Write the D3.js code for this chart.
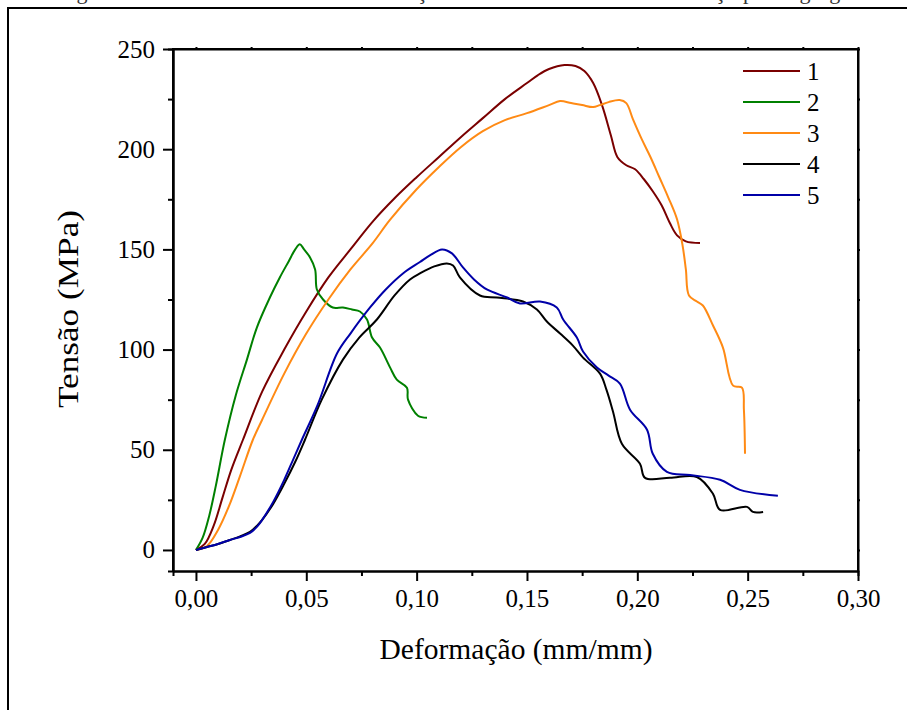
<!DOCTYPE html>
<html>
<head>
<meta charset="utf-8">
<script src="https://cdn.jsdelivr.net/npm/d3@7"></script>
<style>
  body { margin: 0; background: #fff; }
  svg { display: block; font-family: "Liberation Serif", "Times New Roman", serif; }
  .axis path, .axis line { stroke: #000; stroke-width: 2; }
</style>
</head>
<body>
<svg width="907" height="710"></svg>
<script>
// data: [strain (mm/mm), stress (MPa)]
const curve1 = [[0,0],[0.004,3],[0.008,12],[0.012,26],[0.016,40],[0.0213,55],[0.03,79],[0.04,100],[0.05,119],
  [0.06,136],[0.07,150],[0.0802,164],[0.09,175.5],[0.10,186],[0.11,196],[0.12,206],[0.13,215.5],[0.14,225],[0.15,233],
  [0.155,237],[0.16,240],[0.167,242],[0.172,241.5],[0.176,239],[0.18,233],[0.184,222],[0.188,207],[0.191,196],[0.195,192],[0.199,190],
  [0.203,185],[0.207,179],[0.211,172],[0.2148,163],[0.218,157],[0.222,154],[0.2284,153.2]]
const curve2 = [[0,0],[0.003,6],[0.006,17],[0.009,32],[0.0131,55],[0.018,77],[0.0231,95],[0.0276,111],[0.0335,126],[0.038,136],
  [0.042,144],[0.045,150],[0.0471,152.5],[0.049,150],[0.0517,146],[0.054,140],[0.0548,130],[0.0576,125],[0.062,121],[0.0666,121],
  [0.0707,120],[0.0743,119],[0.0775,115],[0.0798,106],[0.0834,101],[0.088,91],[0.091,85],[0.0956,81],[0.0961,75],[0.1006,67],[0.1047,66]]
const curve3 = [[0,0],[0.005,2],[0.01,10],[0.015,22],[0.02,37],[0.0258,55],[0.03,65],[0.04,88],[0.05,108],[0.06,125],
  [0.07,140],[0.08,153],[0.0879,164.7],[0.10,180],[0.11,191],[0.12,201],[0.13,209],[0.14,214.5],[0.15,218],[0.16,222],
  [0.165,224],[0.17,223],[0.175,222],[0.18,221],[0.183,222],[0.187,223.5],[0.192,224.5],[0.195,223],[0.198,215],[0.202,205],
  [0.206,196],[0.21,186],[0.214,176],[0.218,165],[0.2205,152],[0.222,140],[0.2234,127],[0.227,124],[0.2297,122],[0.2343,112],
  [0.2388,101],[0.2434,82],[0.2474,81],[0.2483,70],[0.2488,48]]
const curve4 = [[0,0],[0.005,1.5],[0.01,3],[0.0154,5],[0.02,6.8],[0.0245,9],[0.028,12.5],[0.03,15],[0.035,23],[0.04,33],
  [0.045,44],[0.0494,55],[0.057,75],[0.0666,95],[0.074,106],[0.082,115],[0.09,127],[0.097,135],[0.1015,138],[0.108,141.5],
  [0.1137,143],[0.1165,142],[0.1196,136],[0.1287,127],[0.1364,126],[0.1482,124],[0.1545,120],[0.159,114],[0.165,108],[0.1708,102],
  [0.1754,96],[0.1831,88],[0.186,80],[0.189,69],[0.193,53],[0.2012,43],[0.2035,36],[0.2148,36],[0.227,36.4],[0.2343,28],
  [0.2375,20],[0.2497,21.5],[0.2524,19],[0.257,19]]
const curve5 = [[0,0],[0.005,1.5],[0.01,3],[0.0154,5],[0.02,6.5],[0.0245,8.5],[0.028,12],[0.03,15],[0.035,24],[0.04,35],
  [0.044,45],[0.048,55],[0.055,72],[0.0639,98],[0.07,108],[0.0789,121],[0.086,130],[0.0938,138],[0.1015,143.7],[0.106,147],
  [0.1115,150],[0.116,148],[0.121,141],[0.126,135],[0.1318,130],[0.141,126],[0.1468,123],[0.1559,124],[0.1635,121],[0.1664,115],
  [0.1726,106],[0.1754,99],[0.1817,91],[0.187,87],[0.1921,83],[0.1967,70],[0.2044,60],[0.207,48],[0.2134,39],[0.2239,37.4],
  [0.2375,35],[0.2465,30],[0.2637,27]]

const seriesNames = ['1','2','3','4','5']
const seriesColors = ['#7a0000','#008000','#ff8a14','#000000','#0000a8']
const xTicks = [0,0.05,0.10,0.15,0.20,0.25,0.30]
const yTicks = [0,50,100,150,200,250]

const serif = '"Liberation Serif", "Times New Roman", serif'
const svg = d3.select('svg')

// outer frame of the figure + caption cut at the top edge
svg.append('text')
  .attr('x',57).attr('y',-1)
  .attr('font-size',22)
  .attr('fill','#333')
  .attr('textLength',826)
  .text('Figura 4.11 - Curvas tensão x deformação das amostras ensaiadas de aço para agregados')
svg.append('path')
  .attr('d','M8,720 V8 H920')
  .attr('fill','none').attr('stroke','#000').attr('stroke-width',2)

const x = d3.scaleLinear().domain([-0.0104,0.30]).range([173,858])
const y = d3.scaleLinear().domain([-10.5,250]).range([571,49])

const fmt = d => d3.format('.2f')(d).replace('.',',')

const xMinor = d3.range(0.025,0.30,0.05)
const yMinor = d3.range(25,250,50)

function styleAxis(g){
  g.attr('font-family',serif).attr('font-size',25)
  g.selectAll('text').attr('fill','#000')
}

svg.append('g').attr('class','axis')
  .attr('transform','translate(0,571)')
  .call(d3.axisBottom(x).tickValues(xMinor).tickSize(5).tickFormat(''))
svg.append('g').attr('class','axis')
  .attr('transform','translate(0,571)')
  .call(d3.axisBottom(x).tickValues(xTicks).tickSize(10).tickSizeOuter(0).tickPadding(8).tickFormat(fmt))
  .call(styleAxis)

svg.append('g').attr('class','axis')
  .attr('transform','translate(173,0)')
  .call(d3.axisLeft(y).tickValues(yMinor).tickSize(5).tickFormat(''))
svg.append('g').attr('class','axis')
  .attr('transform','translate(173,0)')
  .call(d3.axisLeft(y).tickValues(yTicks).tickSize(10).tickSizeOuter(0).tickPadding(8).tickFormat(d3.format('d')))
  .call(styleAxis)

// top / right frame with tiny ticks
svg.append('g').attr('class','axis')
  .attr('transform','translate(0,49)')
  .call(d3.axisTop(x).tickValues(xTicks.concat(xMinor)).tickSize(2).tickSizeOuter(0).tickFormat(''))
svg.append('g').attr('class','axis')
  .attr('transform','translate(858,0)')
  .call(d3.axisRight(y).tickValues(yTicks.concat(yMinor)).tickSize(2).tickSizeOuter(0).tickFormat(''))
svg.append('path')
  .attr('d','M173,571 V49 H858 V571')
  .attr('fill','none').attr('stroke','#000').attr('stroke-width',2)

// curves
const line = d3.line().x(d => x(d[0])).y(d => y(d[1])).curve(d3.curveCatmullRom.alpha(0.5))
const curves = [curve1,curve2,curve3,curve4,curve5]
svg.append('g').selectAll('path.curve').data(curves).enter().append('path')
  .attr('class','curve')
  .attr('d',line)
  .attr('fill','none')
  .attr('stroke',(d,i) => seriesColors[i])
  .attr('stroke-width',2)
  .attr('stroke-linejoin','round')

// legend
const legend = svg.append('g').attr('transform','translate(743,71)')
const rows = legend.selectAll('g').data(seriesNames).enter().append('g')
  .attr('transform',(d,i) => `translate(0,${i*31})`)
rows.append('line')
  .attr('x1',0).attr('x2',57)
  .attr('stroke',(d,i) => seriesColors[i]).attr('stroke-width',2)
rows.append('text')
  .attr('x',64).attr('dy','0.35em')
  .attr('font-size',25)
  .text(d => d)

// axis titles
svg.append('text')
  .attr('x',516).attr('y',659)
  .attr('text-anchor','middle')
  .attr('font-size',29)
  .attr('textLength',273).attr('lengthAdjust','spacingAndGlyphs')
  .text('Deformação (mm/mm)')
svg.append('text')
  .attr('transform','translate(78,309) rotate(-90)')
  .attr('text-anchor','middle')
  .attr('font-size',29)
  .attr('textLength',198).attr('lengthAdjust','spacingAndGlyphs')
  .text('Tensão (MPa)')
</script>
</body>
</html>
